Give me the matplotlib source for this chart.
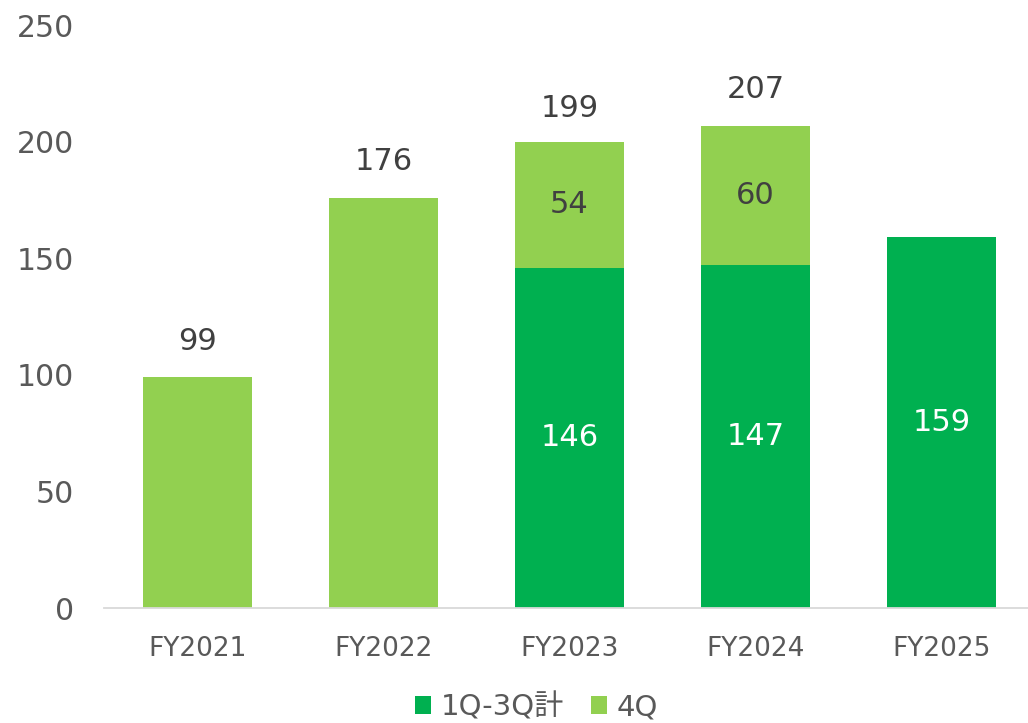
import matplotlib
matplotlib.use('Agg')
import matplotlib.pyplot as plt

plt.rcParams['font.family'] = ['DejaVu Sans', 'Noto Sans CJK JP']

years = ['FY2021', 'FY2022', 'FY2023', 'FY2024', 'FY2025']
q1_3 = [0, 0, 146, 147, 159]
q4 = [99, 176, 54, 60, 0]
totals = [99, 176, 199, 207, None]

dark = '#00B050'
light = '#92D050'

fig = plt.figure(figsize=(10.28, 7.23), dpi=100)
ax = fig.add_axes([0.1015, 0.159, 0.905, 0.806])

x = list(range(len(years)))
w = 0.586
b1 = ax.bar(x, q1_3, w, color=dark, label='1Q-3Q計')
b2 = ax.bar(x, q4, w, bottom=q1_3, color=light, label='4Q')

for i in x:
    if q1_3[i] > 0:
        ax.text(i, q1_3[i] / 2, str(q1_3[i]), ha='center', va='center',
                fontsize=22, color='white')
    if q4[i] > 0 and q1_3[i] > 0:
        ax.text(i, q1_3[i] + q4[i] / 2, str(q4[i]), ha='center', va='center',
                fontsize=22, color='#404040')
    if totals[i] is not None:
        ax.text(i, totals[i] + 15.5, str(totals[i]), ha='center', va='center',
                fontsize=22, color='#404040')

ax.set_xlim(-0.5, 4.5)
ax.set_ylim(0, 250)
ax.set_yticks(range(0, 251, 50))
ax.set_xticks(x)
ax.set_xticklabels(years)
ax.tick_params(axis='y', length=0, labelsize=21.5, labelcolor='#595959', pad=22)
ax.tick_params(axis='x', length=0, labelsize=19, labelcolor='#595959', pad=20)
for s in ['top', 'right', 'left']:
    ax.spines[s].set_visible(False)
ax.spines['bottom'].set_color('#D9D9D9')
ax.spines['bottom'].set_linewidth(1.3)

fig.legend(handles=[b1, b2], loc='center', bbox_to_anchor=(0.522, 0.022),
           ncol=2, frameon=False, fontsize=21, labelcolor='#595959',
           handlelength=0.55, handleheight=0.55, handletextpad=0.35,
           columnspacing=0.9, borderpad=0)

fig.savefig('out.png', dpi=100)
